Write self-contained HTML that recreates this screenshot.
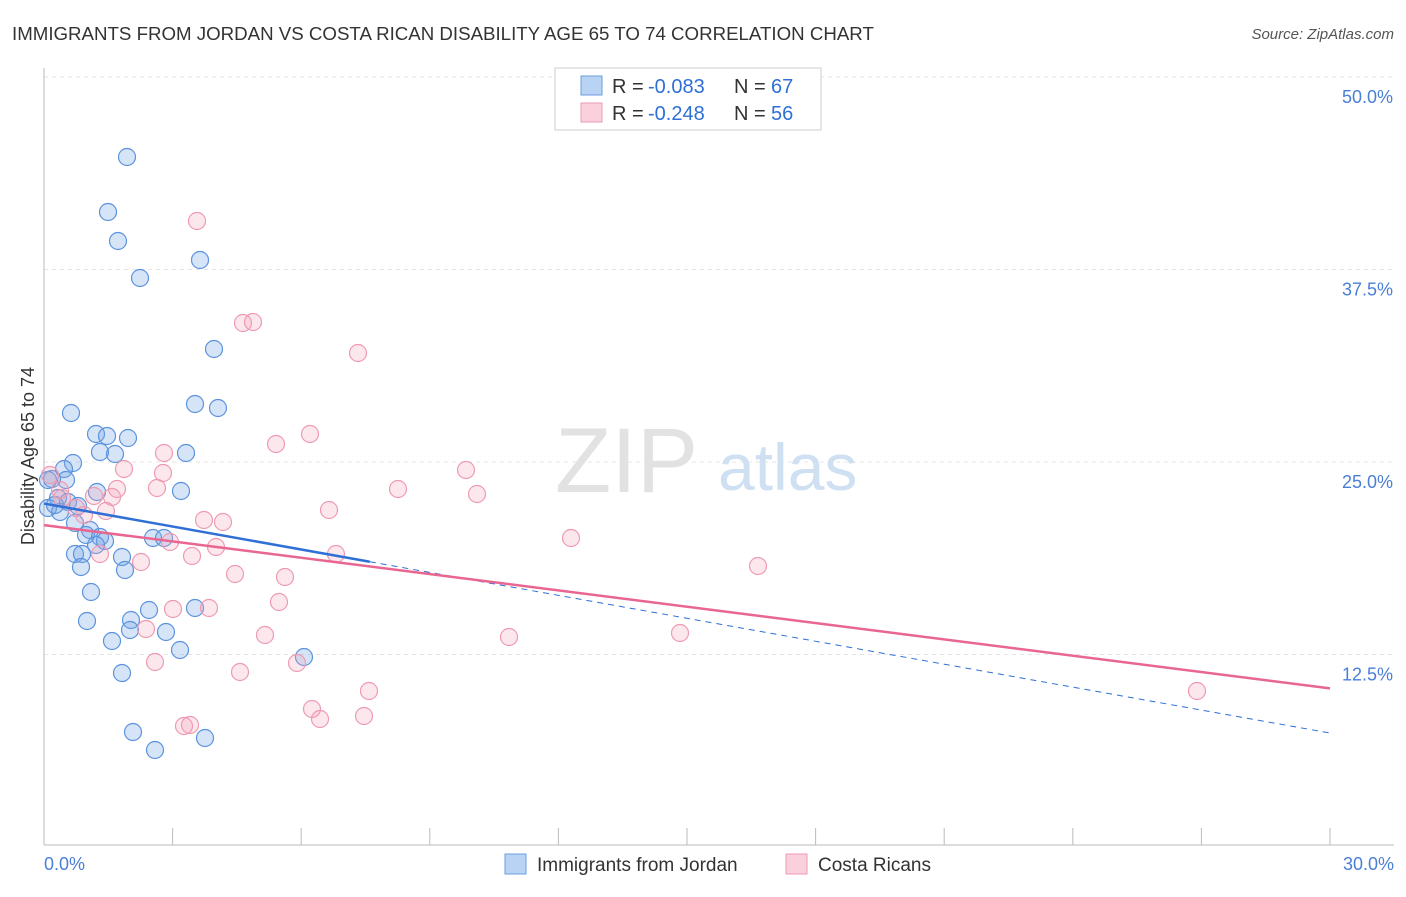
<!DOCTYPE html>
<html><head><meta charset="utf-8"><style>
body{margin:0;background:#fff;font-family:"Liberation Sans",sans-serif;}
svg text{font-family:"Liberation Sans",sans-serif;}
</style></head><body>
<svg id="c" width="1406" height="892"></svg>
<script>
const blueX=[127,108,118,140,200,214,71,195,218,96,107,128,100,115,186,73,64,66,52,181,97,58,68,78,48,60,75,90,86,100,105,153,164,122,125,75,82,81,91,149,195,131,87,130,166,112,180,304,122,133,155,205,48,55,96].map(p=>(p-44)/1286*30);
const blueY=[157,212,241,278,260,349,413,404,408,434,436,438,452,454,453,463,469,480,479,491,492,498,502,506,508,512,523,530,535,537,541,538,538,557,570,554,554,567,592,610,608,620,621,630,632,641,650,657,673,732,750,738,480,505,545].map(p=>(847-p)/192.5*12.5);
const pinkX=[197,243,253,358,276,310,164,466,124,163,398,477,157,94,117,112,62,76,84,106,329,204,223,170,216,192,100,336,571,141,235,285,758,279,173,209,146,265,509,680,155,297,240,369,1197,312,320,364,184,190,50,60].map(p=>(p-44)/1286*30);
const pinkY=[221,323,322,353,444,434,453,470,469,473,489,494,488,496,489,497,498,508,515,511,510,520,522,542,547,556,554,554,538,562,574,577,566,602,609,608,629,635,637,633,662,663,672,691,691,709,719,716,726,725,475,490].map(p=>(847-p)/192.5*12.5);
const yTicks=[12.5,25,37.5,50];
const xTicks=[0,3,6,9,12,15,18,21,24,27,30];
const blueTrend=[22.3,7.4];
const pinkTrend=[20.9,10.3];
const NS='http://www.w3.org/2000/svg';
const svg=document.getElementById('c');
const X=v=>44+v/30*1286, Y=v=>847-v/12.5*192.5;
function el(t,a,txt){const e=document.createElementNS(NS,t);for(const k in a)e.setAttribute(k,a[k]);if(txt!=null)e.textContent=txt;svg.appendChild(e);return e;}
let e;
e=el('text',{x:12,y:40,'font-size':18.7,fill:'#333'},'IMMIGRANTS FROM JORDAN VS COSTA RICAN DISABILITY AGE 65 TO 74 CORRELATION CHART');


e=el('text',{x:1394,y:39,'font-size':15,fill:'#555','font-style':'italic','text-anchor':'end'},'Source: ZipAtlas.com');


yTicks.forEach(v=>{
 e=el('line',{x1:44,x2:1394,y1:Y(v),y2:Y(v),stroke:'#e4e4e4','stroke-dasharray':'4,4'});
 
 
 e=el('text',{x:1393,y:Y(v)+26,'font-size':18,fill:'#4a7fd6','text-anchor':'end'},v.toFixed(1)+'%');
 
 
});
e=el('line',{x1:44,x2:44,y1:68,y2:845,stroke:'#bbb'});


e=el('line',{x1:44,x2:1394,y1:845,y2:845,stroke:'#bbb'});


xTicks.forEach(v=>{
 e=el('line',{x1:X(v),x2:X(v),y1:828,y2:845,stroke:'#bbb'});
 
 
});
e=el('text',{x:44,y:870,'font-size':18,fill:'#4a7fd6'},'0.0%');


e=el('text',{x:1394,y:870,'font-size':18,fill:'#4a7fd6','text-anchor':'end'},'30.0%');


e=el('text',{x:34,y:456,'font-size':18,fill:'#333','text-anchor':'middle',transform:'rotate(-90 34 456)'},'Disability Age 65 to 74');


e=el('text',{x:555,y:492,'font-size':92,fill:'#e2e2e2','font-family':'Liberation Serif'},'ZIP');


e=el('text',{x:718,y:490,'font-size':66,fill:'#cfe0f3'},'atlas');


blueX.forEach((x,i)=>{
 e=el('circle',{cx:X(x),cy:Y(blueY[i]),r:8.5,fill:'rgba(120,165,230,0.3)',stroke:'#5b93dd','stroke-width':1.2});
 
 
});
pinkX.forEach((x,i)=>{
 e=el('circle',{cx:X(x),cy:Y(pinkY[i]),r:8.5,fill:'rgba(245,160,185,0.25)',stroke:'#ee9ab3','stroke-width':1.2});
 
 
});
const bAt=x=>blueTrend[0]+(blueTrend[1]-blueTrend[0])*x/30;
e=el('line',{x1:X(0),y1:Y(bAt(0)),x2:X(7.6),y2:Y(bAt(7.6)),stroke:'#2f6fd6','stroke-width':2.5});


e=el('line',{x1:X(7.6),y1:Y(bAt(7.6)),x2:X(30),y2:Y(bAt(30)),stroke:'#2f6fd6','stroke-width':1,'stroke-dasharray':'6,5'});


e=el('line',{x1:X(0),y1:Y(pinkTrend[0]),x2:X(30),y2:Y(pinkTrend[1]),stroke:'#e8668f','stroke-width':2.5});


e=el('rect',{x:555,y:68,width:266,height:62,fill:'#fff',stroke:'#ccc'});


[['#b9d3f5','#6a9de0','-0.083','67',86],['#fbd0dd','#ee9ab3','-0.248','56',113]].forEach(r=>{
 e=el('rect',{x:581,y:r[4]-10,width:21,height:19,fill:r[0],stroke:r[1]});
 
 
 e=el('text',{x:612,y:r[4]+7,'font-size':20,fill:'#333'},'R = ');
 
 
 e=el('text',{x:648,y:r[4]+7,'font-size':20,fill:'#2f6fd6'},r[2]);
 
 
 e=el('text',{x:734,y:r[4]+7,'font-size':20,fill:'#333'},'N = ');
 
 
 e=el('text',{x:771,y:r[4]+7,'font-size':20,fill:'#2f6fd6'},r[3]);
 
 
});
[[505,'#b9d3f5','#6a9de0','Immigrants from Jordan'],[786,'#fbd0dd','#ee9ab3','Costa Ricans']].forEach(r=>{
 e=el('rect',{x:r[0],y:854,width:21,height:20,fill:r[1],stroke:r[2]});
 
 
 e=el('text',{x:r[0]+32,y:871,'font-size':19,fill:'#333'},r[3]);
 
 
});
</script>
</body></html>
